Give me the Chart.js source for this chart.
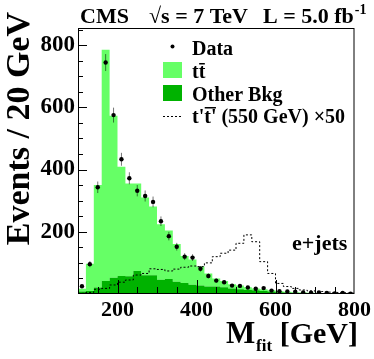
<!DOCTYPE html>
<html><head><meta charset="utf-8">
<script src="https://cdn.jsdelivr.net/npm/chart.js@4/dist/chart.umd.min.js"></script>
<style>html,body{margin:0;padding:0;background:#fff;}canvas{display:block;}</style>
</head><body>
<canvas id="c" width="374" height="359" style="width:374px;height:359px"></canvas>
<script>
// bins: lower edges (GeV), width 20 GeV
const binLow = [100,120,140,160,180,200,220,240,260,280,300,320,340,360,380,400,420,440,460,480,500,520,540,560,580,600,620,640,660,680,700,720,740,760,780];
const binWidth = 20;
const dataCounts = [25,96,343,744,575,433,372,332,315,296,234,186,152,120,117,81,58,43,38,27,26,21,17,19,11,9,8,7,5,4,5,3,2,3,1];
const ttbar      = [9,87,329,743,521,351,298,281,250,221,178,156,122,87,81,61,42,26,20,13,12,9,6,5,4,3,2,2,2,1,1,1,1,1,0];
const otherBkg   = [8,10,21,42,52,58,57,74,60,60,46,48,39,35,30,27,24,24,22,18,15,13,12,10,8,6,5,4,3,3,2,2,1,1,1];
const signalX50  = [2,5,15,18,29,38,45,61,66,81,79,74,80,86,90,88,100,120,131,141,163,190,168,104,66,34,24,18,13,10,8,6,5,4,3];
const xTickValues = [200,400,600,800];
const yTickValues = [200,400,600,800];
const xRange = [100, 800];
const yRange = [0, 855];
const minorStep = 50;

const FONT = "'Liberation Serif','Times New Roman',serif";
const LIGHT = 'rgb(102,255,102)';
const DARK = 'rgb(0,178,0)';

function stepPoints(vals){
  const pts = binLow.map((x,i)=>({x:x, y:vals[i]}));
  pts.push({x: binLow[binLow.length-1]+binWidth, y: vals[vals.length-1]});
  return pts;
}

const decor = {
  id:'decor',
  beforeDatasetDraw(chart, args){
    if (args.index !== 0) return;
    const ctx = chart.ctx, ys = chart.scales.y;
    ctx.save();
    ctx.strokeStyle = 'rgba(0,0,0,0.55)';
    ctx.lineWidth = 1;
    args.meta.data.forEach((pt,i)=>{
      const v = dataCounts[i], e = Math.sqrt(v);
      ctx.beginPath();
      ctx.moveTo(pt.x, ys.getPixelForValue(v+e));
      ctx.lineTo(pt.x, ys.getPixelForValue(Math.max(v-e,0)));
      ctx.stroke();
    });
    ctx.restore();
  },
  afterDatasetsDraw(chart){
    const ctx = chart.ctx, a = chart.chartArea, xs = chart.scales.x, ys = chart.scales.y;
    ctx.save();
    ctx.strokeStyle = '#000'; ctx.lineWidth = 1;
    for (let v = xRange[0]+minorStep; v < xRange[1]; v += minorStep){
      const major = xTickValues.includes(v);
      const px = Math.round(xs.getPixelForValue(v)) + 0.5;
      ctx.beginPath(); ctx.moveTo(px, a.bottom); ctx.lineTo(px, a.bottom - (major?14:7)); ctx.stroke();
    }
    for (let v = yRange[0]+minorStep; v < yRange[1]; v += minorStep){
      const major = yTickValues.includes(v);
      const py = Math.round(ys.getPixelForValue(v)) + 0.5;
      ctx.beginPath(); ctx.moveTo(a.left, py); ctx.lineTo(a.left + (major?9:5), py); ctx.stroke();
    }
    ctx.strokeRect(a.left+0.5, a.top+0.5, a.right-a.left-1, a.bottom-a.top-1);
    ctx.restore();
  },
  afterDraw(chart){
    const ctx = chart.ctx;
    ctx.save();
    ctx.fillStyle = '#000';
    ctx.textBaseline = 'alphabetic';
    // header
    ctx.font = 'bold 22px ' + FONT;
    ctx.fillText('CMS', 80, 23);
    ctx.fillText('\u221As = 7 TeV', 149, 23);
    const lum = 'L = 5.0 fb';
    ctx.fillText(lum, 263, 23);
    const lw = ctx.measureText(lum).width;
    ctx.font = 'bold 14px ' + FONT;
    ctx.fillText('-1', 263 + lw + 1, 14);
    // legend
    const lx = 163, tx = 192;
    ctx.font = 'bold 20px ' + FONT;
    ctx.beginPath(); ctx.arc(lx+9.5, 46.5, 2, 0, Math.PI*2); ctx.fill();
    ctx.fillText('Data', tx, 55);
    ctx.fillStyle = LIGHT; ctx.fillRect(lx, 62, 19, 16);
    ctx.fillStyle = DARK; ctx.fillRect(lx, 85, 19, 16);
    ctx.fillStyle = '#000';
    ctx.fillText('tt', tx, 78);
    const wt = ctx.measureText('t').width;
    ctx.fillRect(tx+wt+0.5, 63, wt-1, 1.5);
    ctx.fillText('Other Bkg', tx, 101);
    ctx.save();
    ctx.strokeStyle = '#000'; ctx.setLineDash([2,2]); ctx.lineWidth = 1;
    ctx.beginPath(); ctx.moveTo(lx, 116.5); ctx.lineTo(lx+19, 116.5); ctx.stroke();
    ctx.restore();
    const w1 = ctx.measureText("t'").width;
    ctx.fillText("t't' (550 GeV) \u00D750", tx, 123);
    ctx.fillRect(tx+w1+0.5, 107, w1-1, 1.5);
    // channel
    ctx.font = 'bold 22px ' + FONT;
    ctx.fillText('e+jets', 292, 250);
    // x title
    ctx.font = 'bold 31px ' + FONT;
    ctx.fillText('M', 226, 343);
    ctx.font = 'bold 17px ' + FONT;
    ctx.fillText('fit', 256, 351);
    ctx.font = 'bold 30px ' + FONT;
    ctx.textAlign = 'right';
    ctx.fillText('[GeV]', 358, 343);
    // y title
    ctx.save();
    ctx.translate(29, 12);
    ctx.rotate(-Math.PI/2);
    ctx.font = 'bold 34px ' + FONT;
    ctx.textAlign = 'right';
    ctx.fillText('Events / 20 GeV', 0, 0);
    ctx.restore();
    ctx.restore();
  }
};

new Chart(document.getElementById('c'), {
  type:'line',
  data:{
    datasets:[
      { label:'Data', data: binLow.map((x,i)=>({x:x+binWidth/2, y:dataCounts[i]})), stack:'data',
        showLine:false, pointRadius:2.2, pointBackgroundColor:'#000', pointBorderWidth:0, borderColor:'#000' },
      { label:"t't' (550 GeV) x50", data: stepPoints(signalX50), stack:'sig', stepped:true,
        borderColor:'#000', borderWidth:1, borderDash:[2,2], pointRadius:0, fill:false },
      { label:'Other Bkg', data: stepPoints(otherBkg), stack:'bkg', stepped:true,
        borderColor:'rgba(0,0,0,0)', borderWidth:1, backgroundColor:DARK, pointRadius:0, fill:'origin' },
      { label:'ttbar', data: stepPoints(ttbar), stack:'bkg', stepped:true,
        borderColor:'rgba(0,0,0,0)', borderWidth:1, backgroundColor:LIGHT, pointRadius:0, fill:'-1' }
    ]
  },
  options:{
    responsive:false, animation:false, events:[],
    layout:{ padding:{ left:0, right:17, top:28, bottom:0 } },
    plugins:{ legend:{display:false}, tooltip:{enabled:false}, title:{display:false} },
    scales:{
      x:{ type:'linear', min:xRange[0], max:xRange[1],
          grid:{display:false, drawTicks:false}, border:{display:false},
          ticks:{ font:{family:FONT, weight:'bold', size:22}, color:'#000', padding:3, maxRotation:0, autoSkip:false },
          afterBuildTicks: s => { s.ticks = xTickValues.map(v=>({value:v})); },
          afterFit: s => { s.height = 65; } },
      y:{ type:'linear', stacked:true, min:yRange[0], max:yRange[1],
          grid:{display:false, drawTicks:false}, border:{display:false},
          ticks:{ font:{family:FONT, weight:'bold', size:23}, color:'#000', padding:3, autoSkip:false },
          afterBuildTicks: s => { s.ticks = yTickValues.map(v=>({value:v})); },
          afterFit: s => { s.width = 78; } }
    }
  },
  plugins:[decor]
});
</script>
</body></html>
